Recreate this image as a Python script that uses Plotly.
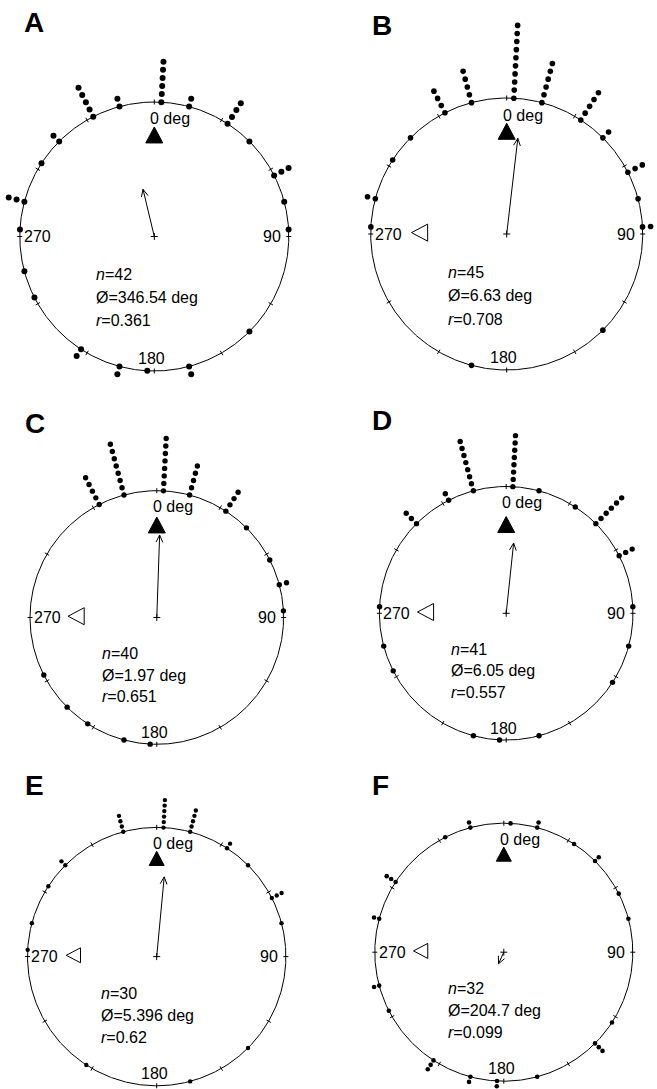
import numpy as np
import plotly.graph_objects as go

W, H = 657, 1089

# ---------------- data ----------------
panel_labels = ["A", "B", "C", "D", "E", "F"]

A_angles = [3, 15, 33, 45, 63, 75, 87, 135, 165, 183, 195, 213, 243, 255, 273, 285, 303, 315, 333, 345]
A_counts = [6, 2, 4, 1, 3, 1, 1, 1, 2, 1, 2, 2, 1, 1, 1, 3, 1, 2, 5, 2]

B_angles = [3, 15, 33, 45, 63, 75, 87, 135, 195, 273, 285, 303, 315, 333, 345]
B_counts = [10, 6, 5, 2, 3, 1, 2, 1, 1, 1, 2, 1, 1, 4, 5]

C_angles = [3, 15, 33, 45, 63, 75, 87, 183, 195, 213, 225, 243, 333, 345]
C_counts = [8, 5, 4, 1, 1, 2, 1, 1, 1, 1, 1, 1, 5, 8]

D_angles = [3, 15, 33, 45, 63, 87, 105, 123, 165, 183, 195, 243, 255, 273, 315, 333, 345]
D_counts = [8, 1, 1, 6, 3, 1, 1, 1, 1, 1, 1, 1, 1, 1, 3, 2, 8]

E_angles = [3, 15, 33, 45, 63, 75, 135, 165, 213, 273, 285, 303, 315, 345]
E_counts = [6, 5, 2, 1, 3, 1, 1, 1, 1, 1, 1, 1, 2, 4]

F_angles = [3, 15, 33, 45, 63, 75, 123, 135, 165, 183, 195, 213, 243, 255, 285, 303, 333, 345]
F_counts = [1, 2, 1, 2, 1, 1, 1, 3, 1, 2, 2, 3, 1, 2, 2, 3, 1, 2]

n_values = [42, 45, 40, 41, 30, 32]
mean_dirs = [346.54, 6.63, 1.97, 6.05, 5.396, 204.7]
mean_texts = ["346.54", "6.63", "1.97", "6.05", "5.396", "204.7"]
r_values = [0.361, 0.708, 0.651, 0.557, 0.62, 0.099]
r_texts = ["0.361", "0.708", "0.651", "0.557", "0.62", "0.099"]
tick_angles = [0, 30, 60, 90, 120, 150, 180, 210, 240, 270, 300, 330]
cardinal_labels = ["0 deg", "90", "180", "270"]
open_marker = [False, True, True, True, True, True]

all_angles = [A_angles, B_angles, C_angles, D_angles, E_angles, F_angles]
all_counts = [A_counts, B_counts, C_counts, D_counts, E_counts, F_counts]

# ---------------- layout geometry (pixels) ----------------
geom = [
    dict(cx=154.3, cy=236.5, R=134.5, dot=6.0, step=8.1, tri=17, fy=0.755, lab=(22, 23)),
    dict(cx=506.7, cy=234.0, R=136.0, dot=5.6, step=8.1, tri=17, fy=0.755, lab=(370, 25)),
    dict(cx=156.8, cy=617.5, R=126.8, dot=5.4, step=7.5, tri=17, fy=0.73, lab=(23, 423)),
    dict(cx=506.2, cy=613.3, R=126.8, dot=5.4, step=7.3, tri=17, fy=0.70, lab=(370, 420)),
    dict(cx=156.7, cy=956.6, R=129.2, dot=4.4, step=5.5, tri=15, fy=0.76, lab=(23, 785)),
    dict(cx=503.8, cy=952.2, R=129.0, dot=4.6, step=5.3, tri=15, fy=0.76, lab=(370, 785)),
]
col_edges = [(0, 328), (328, W)]
row_edges = [(0, 400), (400, 770), (770, H)]

FONT = "Liberation Sans, Arial, Helvetica, sans-serif"
fig = go.Figure()
annotations = []
axes = {}


def pol(r, deg):
    t = np.deg2rad(np.asarray(deg, dtype=float))
    return r * np.sin(t), r * np.cos(t)


for i in range(6):
    g = geom[i]
    R = g["R"]
    x0, x1 = col_edges[i % 2]
    y0, y1 = row_edges[i // 2]
    sfx = "" if i == 0 else str(i + 1)
    xa, ya = "x" + sfx, "y" + sfx
    axes["xaxis" + sfx] = dict(domain=[x0 / W, x1 / W],
                               range=[(x0 - g["cx"]) / R, (x1 - g["cx"]) / R],
                               visible=False, fixedrange=True)
    axes["yaxis" + sfx] = dict(domain=[1 - y1 / H, 1 - y0 / H],
                               range=[(g["cy"] - y1) / R, (g["cy"] - y0) / R],
                               visible=False, fixedrange=True)
    common = dict(xaxis=xa, yaxis=ya, showlegend=False, hoverinfo="skip", cliponaxis=False)

    # circle
    th = np.linspace(0, 360, 721)
    cxs, cys = pol(1.0, th)
    fig.add_trace(go.Scatter(x=cxs, y=cys, mode="lines",
                             line=dict(color="black", width=1), **common))

    # ticks every 30 deg
    tx, ty = [], []
    d = 2.5 / R
    for a in tick_angles:
        xa0, ya0 = pol(1 - d, a)
        xa1, ya1 = pol(1 + d, a)
        tx += [float(xa0), float(xa1), None]
        ty += [float(ya0), float(ya1), None]
    fig.add_trace(go.Scatter(x=tx, y=ty, mode="lines",
                             line=dict(color="black", width=1), **common))

    # stacked dots
    px, py = [], []
    s = g["step"] / R
    for a, c in zip(all_angles[i], all_counts[i]):
        for k in range(c):
            xx, yy = pol(1 + k * s, a)
            px.append(float(xx))
            py.append(float(yy))
    fig.add_trace(go.Scatter(x=px, y=py, mode="markers",
                             marker=dict(color="black", size=g["dot"], line=dict(width=0)),
                             **common))

    # mean vector arrow (length = r, direction = mean angle)
    L = r_values[i]
    ex, ey = pol(L, mean_dirs[i])
    hl = 8.0 / R
    ax_, ay_ = [0, float(ex), None], [0, float(ey), None]
    for off in (-25, 25):
        bx, by = pol(hl, mean_dirs[i] + 180 + off)
        ax_ += [float(ex), float(ex + bx), None]
        ay_ += [float(ey), float(ey + by), None]
    fig.add_trace(go.Scatter(x=ax_, y=ay_, mode="lines",
                             line=dict(color="black", width=1), **common))

    # center cross
    fig.add_trace(go.Scatter(x=[0], y=[0], mode="markers",
                             marker=dict(symbol="cross-thin", size=5,
                                         line=dict(color="black", width=1)),
                             **common))

    # filled triangle below 0 deg
    tw = g["tri"] / R
    tyc = g["fy"]
    fig.add_trace(go.Scatter(
        x=[-tw / 2, tw / 2, 0, -tw / 2],
        y=[tyc - 0.47 * tw, tyc - 0.47 * tw, tyc + 0.47 * tw, tyc - 0.47 * tw],
        mode="lines", fill="toself", fillcolor="black",
        line=dict(color="black", width=1), **common))

    # open left-pointing triangle
    if open_marker[i]:
        tip = -0.70
        fig.add_trace(go.Scatter(
            x=[tip, tip + 0.95 * tw, tip + 0.95 * tw, tip],
            y=[0.01, 0.01 + tw / 2, 0.01 - tw / 2, 0.01],
            mode="lines", line=dict(color="black", width=1), **common))

    # labels
    fs = 16
    annotations += [
        dict(x=-0.045, y=0.875, text=cardinal_labels[0], xanchor="left", yanchor="middle"),
        dict(x=0.955, y=0.0, text=cardinal_labels[1], xanchor="right", yanchor="middle"),
        dict(x=-0.02, y=-0.905, text=cardinal_labels[2], xanchor="center", yanchor="middle"),
        dict(x=-0.985, y=0.0, text=cardinal_labels[3], xanchor="left", yanchor="middle"),
        dict(x=-0.45, y=-0.285, text="<i>n</i>=%d" % n_values[i], xanchor="left", yanchor="middle"),
        dict(x=-0.45, y=-0.455, text="Ø=%s deg" % mean_texts[i], xanchor="left", yanchor="middle"),
        dict(x=-0.45, y=-0.625, text="<i>r</i>=%s" % r_texts[i], xanchor="left", yanchor="middle"),
    ]
    for a in annotations[-7:]:
        a.update(xref=xa, yref=ya, showarrow=False,
                 font=dict(family=FONT, size=fs, color="black"))

    # panel letter
    annotations.append(dict(x=g["lab"][0] / W, y=1 - g["lab"][1] / H, xref="paper", yref="paper",
                            text="<b>%s</b>" % panel_labels[i], showarrow=False,
                            xanchor="left", yanchor="middle",
                            font=dict(family=FONT, size=28, color="black")))

fig.update_layout(width=W, height=H, margin=dict(l=0, r=0, t=0, b=0),
                  paper_bgcolor="white", plot_bgcolor="white",
                  annotations=annotations, **axes)

fig.write_html("out.html", config={"displayModeBar": False},
               post_script="document.body.style.margin='0px';")
